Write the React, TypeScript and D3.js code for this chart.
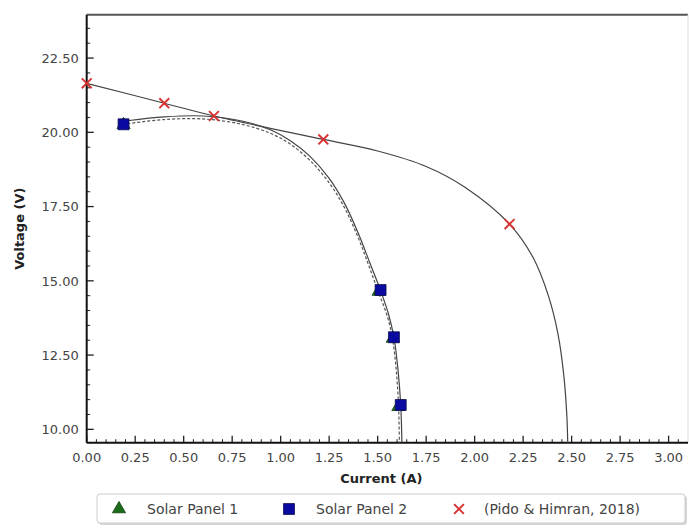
import { useEffect, useRef } from 'react';
import * as d3 from 'd3';

// marker data
const panel1Current = [ 0.19, 1.505, 1.578, 1.607 ];
const panel1Voltage = [ 20.25, 14.64, 13.06, 10.76 ];
const panel2Current = [ 0.19, 1.515, 1.584, 1.619 ];
const panel2Voltage = [ 20.27, 14.69, 13.10, 10.82 ];
const pidoCurrent = [ 0.0, 0.40, 0.656, 1.22, 2.18 ];
const pidoVoltage = [ 21.65, 20.98, 20.55, 19.76, 16.91 ];

// fitted lines
const fitSolidI = [ 0.21, 0.40, 0.60, 0.80, 0.95, 1.05, 1.15, 1.25, 1.33, 1.40, 1.46, 1.515, 1.555, 1.584, 1.605, 1.619, 1.625 ];
const fitSolidV = [ 20.39, 20.52, 20.55, 20.38, 20.08, 19.72, 19.2, 18.45, 17.6, 16.6, 15.6, 14.67, 13.9, 13.10, 12.0, 10.82, 9.55 ];
const fitDashI = [ 0.21, 0.40, 0.60, 0.80, 0.95, 1.05, 1.15, 1.25, 1.33, 1.40, 1.455, 1.505, 1.55, 1.578, 1.597, 1.608, 1.612 ];
const fitDashV = [ 20.29, 20.43, 20.45, 20.27, 19.96, 19.6, 19.06, 18.3, 17.45, 16.45, 15.5, 14.6, 13.8, 13.0, 11.9, 10.75, 9.55 ];
const pidoFitI = [ 0.0, 0.40, 0.656, 1.22, 1.50, 1.75, 1.95, 2.18, 2.30, 2.38, 2.43, 2.46, 2.475, 2.48 ];
const pidoFitV = [ 21.65, 20.98, 20.55, 19.76, 19.37, 18.85, 18.15, 16.91, 15.8, 14.5, 13.2, 11.8, 10.5, 9.55 ];

const xTicks = d3.range( 0, 3.001, 0.25 );
const yTicks = [ 10, 12.5, 15, 17.5, 20, 22.5 ];

const legendItems = [ 'Solar Panel 1', 'Solar Panel 2', '(Pido & Himran, 2018)' ];

export default function App() {
  const svgRef = useRef<SVGSVGElement>( null );

  useEffect( () => {
    if ( !svgRef.current ) return;
    const width = 689;
    const height = 528;
    const margin = { top: 14.7, right: 1, bottom: 85.3, left: 86.7 };
    const font = '"DejaVu Sans", sans-serif';

    const svg = d3.select( svgRef.current );
    svg.selectAll( '*' ).remove();
    svg.attr( 'width', width ).attr( 'height', height );

    const x = d3.scaleLinear().domain( [ 0, 3.1 ] ).range( [ margin.left, width - margin.right ] );
    const y = d3.scaleLinear().domain( [ 9.55, 23.96 ] ).range( [ height - margin.bottom, margin.top ] );

    const x0 = margin.left;
    const y0 = height - margin.bottom;

    // frame
    svg.append( 'line' ).attr( 'x1', x0 ).attr( 'x2', width - margin.right ).attr( 'y1', margin.top ).attr( 'y2', margin.top )
      .attr( 'stroke', '#555' ).attr( 'stroke-width', 2 );
    svg.append( 'line' ).attr( 'x1', width - margin.right ).attr( 'x2', width - margin.right ).attr( 'y1', margin.top ).attr( 'y2', y0 )
      .attr( 'stroke', '#ddd' ).attr( 'stroke-width', 1 );

    // minor + major ticks, pointing inward
    const g = svg.append( 'g' ).attr( 'stroke', '#222' );
    d3.range( 0, 3.1, 0.05 ).forEach( v => {
      const major = Math.abs( v / 0.25 - Math.round( v / 0.25 ) ) < 1e-6;
      g.append( 'line' ).attr( 'x1', x( v ) ).attr( 'x2', x( v ) ).attr( 'y1', y0 ).attr( 'y2', y0 - ( major ? 7 : 3.5 ) )
        .attr( 'stroke-width', major ? 1.3 : 1 );
    } );
    d3.range( 10, 24, 0.5 ).forEach( v => {
      const major = Math.abs( v / 2.5 - Math.round( v / 2.5 ) ) < 1e-6;
      g.append( 'line' ).attr( 'y1', y( v ) ).attr( 'y2', y( v ) ).attr( 'x1', x0 ).attr( 'x2', x0 + ( major ? 7 : 3.5 ) )
        .attr( 'stroke-width', major ? 1.3 : 1 );
    } );

    // axes lines
    svg.append( 'line' ).attr( 'x1', x0 ).attr( 'x2', width - margin.right ).attr( 'y1', y0 ).attr( 'y2', y0 )
      .attr( 'stroke', '#111' ).attr( 'stroke-width', 2 );
    svg.append( 'line' ).attr( 'x1', x0 ).attr( 'x2', x0 ).attr( 'y1', margin.top ).attr( 'y2', y0 )
      .attr( 'stroke', '#111' ).attr( 'stroke-width', 2 );

    // tick labels
    svg.append( 'g' ).selectAll( 'text' ).data( xTicks ).join( 'text' )
      .attr( 'x', d => x( d ) ).attr( 'y', y0 + 19 )
      .attr( 'text-anchor', 'middle' ).attr( 'font-family', font ).attr( 'font-size', 13 ).attr( 'fill', '#444' )
      .text( d => d.toFixed( 2 ) );
    svg.append( 'g' ).selectAll( 'text' ).data( yTicks ).join( 'text' )
      .attr( 'x', x0 - 8 ).attr( 'y', d => y( d ) ).attr( 'dy', '0.36em' )
      .attr( 'text-anchor', 'end' ).attr( 'font-family', font ).attr( 'font-size', 13 ).attr( 'fill', '#444' )
      .text( d => d.toFixed( 2 ) );

    // axis titles
    svg.append( 'text' ).attr( 'x', ( x0 + width - margin.right ) / 2 - 6 ).attr( 'y', 483 )
      .attr( 'text-anchor', 'middle' ).attr( 'font-family', font ).attr( 'font-size', 13 ).attr( 'font-weight', 'bold' ).attr( 'fill', '#222' )
      .text( 'Current (A)' );
    svg.append( 'text' ).attr( 'transform', `translate(24,${ ( margin.top + y0 ) / 2 }) rotate(-90)` )
      .attr( 'text-anchor', 'middle' ).attr( 'font-family', font ).attr( 'font-size', 13 ).attr( 'font-weight', 'bold' ).attr( 'fill', '#222' )
      .text( 'Voltage (V)' );

    // fitted curves
    const line = d3.line<[ number, number ]>()
      .x( d => x( d[ 0 ] ) ).y( d => y( d[ 1 ] ) )
      .curve( d3.curveCatmullRom.alpha( 0.5 ) );
    const plot = svg.append( 'g' );
    plot.append( 'path' ).datum( pidoFitI.map( ( v, i ) => [ v, pidoFitV[ i ] ] as [ number, number ] ) )
      .attr( 'd', line ).attr( 'fill', 'none' ).attr( 'stroke', '#444' ).attr( 'stroke-width', 1.2 );
    plot.append( 'path' ).datum( fitDashI.map( ( v, i ) => [ v, fitDashV[ i ] ] as [ number, number ] ) )
      .attr( 'd', line ).attr( 'fill', 'none' ).attr( 'stroke', '#555' ).attr( 'stroke-width', 1.2 ).attr( 'stroke-dasharray', '3,2' );
    plot.append( 'path' ).datum( fitSolidI.map( ( v, i ) => [ v, fitSolidV[ i ] ] as [ number, number ] ) )
      .attr( 'd', line ).attr( 'fill', 'none' ).attr( 'stroke', '#444' ).attr( 'stroke-width', 1.2 );

    // markers
    const tri = d3.symbol().type( d3.symbolTriangle ).size( 75 );
    const sq = d3.symbol().type( d3.symbolSquare ).size( 120 );
    const cross = d3.symbol().type( d3.symbolX ).size( 65 );

    plot.append( 'g' ).selectAll( 'path' ).data( panel1Current ).join( 'path' )
      .attr( 'transform', ( d, i ) => `translate(${ x( d ) },${ y( panel1Voltage[ i ] ) })` )
      .attr( 'd', tri ).attr( 'fill', '#1b6b1b' ).attr( 'stroke', '#0f3f0f' ).attr( 'stroke-width', 0.8 );
    plot.append( 'g' ).selectAll( 'path' ).data( panel2Current ).join( 'path' )
      .attr( 'transform', ( d, i ) => `translate(${ x( d ) },${ y( panel2Voltage[ i ] ) })` )
      .attr( 'd', sq ).attr( 'fill', '#0a0aa0' ).attr( 'stroke', '#101050' ).attr( 'stroke-width', 0.8 );
    plot.append( 'g' ).selectAll( 'path' ).data( pidoCurrent ).join( 'path' )
      .attr( 'transform', ( d, i ) => `translate(${ x( d ) },${ y( pidoVoltage[ i ] ) })` )
      .attr( 'd', cross ).attr( 'fill', 'none' ).attr( 'stroke', '#d93030' ).attr( 'stroke-width', 1.9 );

    // legend
    const lg = svg.append( 'g' );
    lg.append( 'rect' ).attr( 'x', 99 ).attr( 'y', 496 ).attr( 'width', 588 ).attr( 'height', 29 ).attr( 'rx', 3 )
      .attr( 'fill', '#bbb' ).attr( 'opacity', 0.6 );
    lg.append( 'rect' ).attr( 'x', 97 ).attr( 'y', 494 ).attr( 'width', 588 ).attr( 'height', 29 ).attr( 'rx', 3 )
      .attr( 'fill', '#fff' ).attr( 'stroke', '#ccc' ).attr( 'stroke-width', 1 );
    const markerX = [ 119, 289, 459 ];
    const textX = [ 147, 316, 484 ];
    const symbols = [ tri, sq, cross ];
    legendItems.forEach( ( label, i ) => {
      const p = lg.append( 'path' ).attr( 'transform', `translate(${ markerX[ i ] },${ 509 })` ).attr( 'd', symbols[ i ] );
      if ( i === 0 ) p.attr( 'fill', '#1b6b1b' ).attr( 'stroke', '#0f3f0f' ).attr( 'stroke-width', 0.8 );
      if ( i === 1 ) p.attr( 'fill', '#0a0aa0' ).attr( 'stroke', '#101050' ).attr( 'stroke-width', 0.8 );
      if ( i === 2 ) p.attr( 'fill', 'none' ).attr( 'stroke', '#d93030' ).attr( 'stroke-width', 1.9 );
      lg.append( 'text' ).attr( 'x', textX[ i ] ).attr( 'y', 509 ).attr( 'dy', '0.36em' )
        .attr( 'font-family', font ).attr( 'font-size', 14 ).attr( 'fill', '#444' )
        .text( label );
    } );
  }, [] );

  return (
    <div style={ { position: 'absolute', left: 0, top: 0, width: 689, height: 528, background: '#fff' } }>
      <svg ref={ svgRef } style={ { display: 'block' } } />
    </div>
  );
}
